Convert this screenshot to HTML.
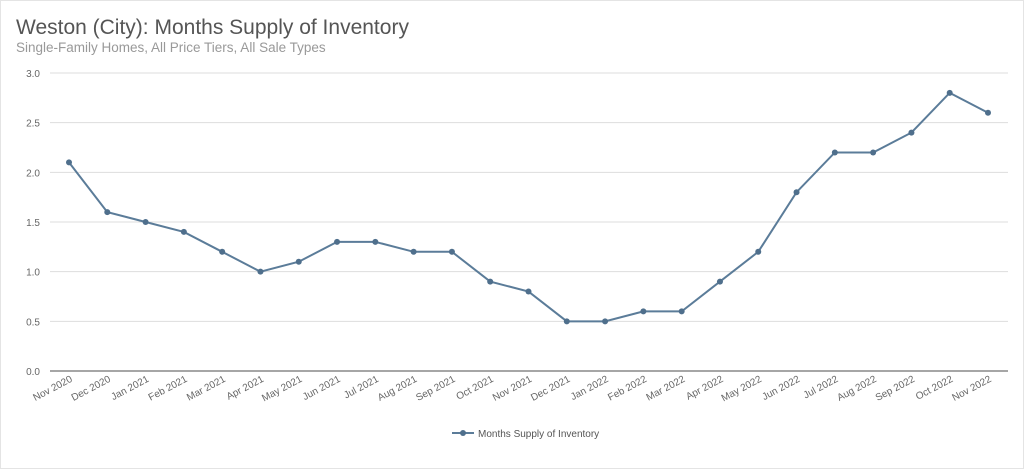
<!DOCTYPE html>
<html><head><meta charset="utf-8"><style>
body{margin:0;background:#fff;width:1024px;height:469px;overflow:hidden;font-family:"Liberation Sans",sans-serif}
#frame{position:absolute;left:0;top:0;width:1022px;height:467px;border:1px solid #e4e4e4}
</style></head><body>
<div id="frame"></div>
<svg id="chart" width="1024" height="469" style="position:absolute;left:0;top:0">
<text x="16" y="34" font-size="21" fill="#555">Weston (City): Months Supply of Inventory</text>
<text x="16" y="52" font-size="13.5" fill="#999">Single-Family Homes, All Price Tiers, All Sale Types</text>
<g id="grid"></g><g id="xl"></g><g id="series"></g>
<g>
<line x1="452" y1="433" x2="474" y2="433" stroke="#5b7c99" stroke-width="2"/>
<circle cx="463" cy="433" r="3" fill="#4f6f8c"/>
<text x="478" y="437" font-size="10" fill="#555">Months Supply of Inventory</text>
</g>
</svg>
<script>
const categories=["Nov 2020","Dec 2020","Jan 2021","Feb 2021","Mar 2021","Apr 2021","May 2021","Jun 2021","Jul 2021","Aug 2021","Sep 2021","Oct 2021","Nov 2021","Dec 2021","Jan 2022","Feb 2022","Mar 2022","Apr 2022","May 2022","Jun 2022","Jul 2022","Aug 2022","Sep 2022","Oct 2022","Nov 2022"];
const values=[2.1,1.6,1.5,1.4,1.2,1.0,1.1,1.3,1.3,1.2,1.2,0.9,0.8,0.5,0.5,0.6,0.6,0.9,1.2,1.8,2.2,2.2,2.4,2.8,2.6];
const yTicks=["0.0","0.5","1.0","1.5","2.0","2.5","3.0"];
const NS="http://www.w3.org/2000/svg";
const x=i=>69+i*(988-69)/(categories.length-1);
const y=v=>371-v*(371-73)/3;
function mk(t,a,p){const e=document.createElementNS(NS,t);for(const k in a)e.setAttribute(k,a[k]);p.appendChild(e);return e;}
const grid=document.getElementById('grid');
yTicks.forEach(t=>{const v=parseFloat(t);
const l=mk('line',{x1:50,x2:1008,y1:y(v),y2:y(v),stroke:v===0?'#888':'#ddd','stroke-width':v===0?1.5:1},grid);


const tx=mk('text',{x:40,y:y(v)+4,'font-size':10,fill:'#666','text-anchor':'end'},grid);tx.textContent=t;

});
const xl=document.getElementById('xl');
categories.forEach((c,i)=>{const tx=mk('text',{x:x(i)+4,y:381,'font-size':10,fill:'#666','text-anchor':'end',transform:`rotate(-28 ${x(i)+4} 381)`},xl);tx.textContent=c;

});
const s=document.getElementById('series');
const pl=mk('polyline',{points:values.map((v,i)=>x(i)+','+y(v)).join(' '),fill:'none',stroke:'#5b7c99','stroke-width':2},s);


values.forEach((v,i)=>{const c=mk('circle',{cx:x(i),cy:y(v),r:3,fill:'#4f6f8c'},s);

});
</script>
</body></html>
